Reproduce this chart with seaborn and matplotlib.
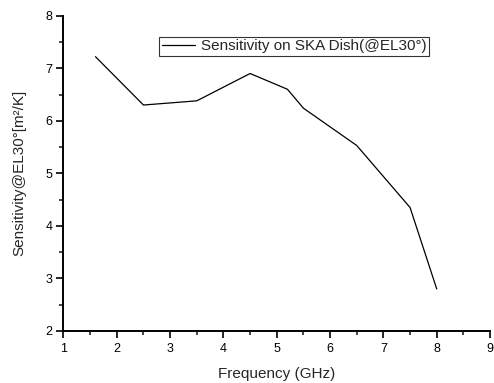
import matplotlib
matplotlib.use("Agg")
import matplotlib.pyplot as plt
import seaborn as sns
import pandas as pd
from matplotlib.ticker import MultipleLocator

# datos
freq = [1.6, 2.5, 3.5, 4.5, 5.2, 5.5, 6.5, 7.5, 8.0]
sens = [7.22, 6.30, 6.38, 6.90, 6.60, 6.24, 5.53, 4.35, 2.80]
serie = "Sensitivity on SKA Dish(@EL30°)"

df = pd.DataFrame({"Frequency": freq, "Sensitivity": sens, "serie": serie})

sns.set_style("ticks")
plt.rcParams["font.family"] = ["Liberation Sans", "DejaVu Sans"]

fig = plt.figure(figsize=(4.94, 3.83), dpi=100)
ax = fig.add_axes([0.1285, 0.1358, 0.8635, 0.8232])

sns.lineplot(data=df, x="Frequency", y="Sensitivity", hue="serie",
             palette=["black"], linewidth=0.9, ax=ax)

ax.set_xlim(1, 9)
ax.set_ylim(2, 8)
ax.xaxis.set_major_locator(MultipleLocator(1))
ax.xaxis.set_minor_locator(MultipleLocator(0.5))
ax.yaxis.set_major_locator(MultipleLocator(1))
ax.yaxis.set_minor_locator(MultipleLocator(0.5))
ax.tick_params(which="major", direction="out", length=5, width=1.2,
               labelsize=9, colors="black", pad=3)
ax.tick_params(axis="x", which="major", pad=4)
ax.tick_params(which="minor", direction="out", length=3, width=1.2)
for s in ["left", "bottom"]:
    ax.spines[s].set_linewidth(1.4)
    ax.spines[s].set_color("black")
sns.despine(ax=ax)

ax.set_xlabel("Frequency (GHz)", fontsize=11, labelpad=8)
ax.set_ylabel("Sensitivity@EL30°[m²/K]", fontsize=11, labelpad=14)

leg = ax.legend(loc="upper left", bbox_to_anchor=(0.225, 0.932),
                fontsize=11, frameon=True, fancybox=False,
                borderpad=0.15, handlelength=2.2, handletextpad=0.4,
                borderaxespad=0)
leg.get_frame().set_edgecolor("black")
leg.get_frame().set_linewidth(0.8)

fig.savefig("out.png", dpi=100)
